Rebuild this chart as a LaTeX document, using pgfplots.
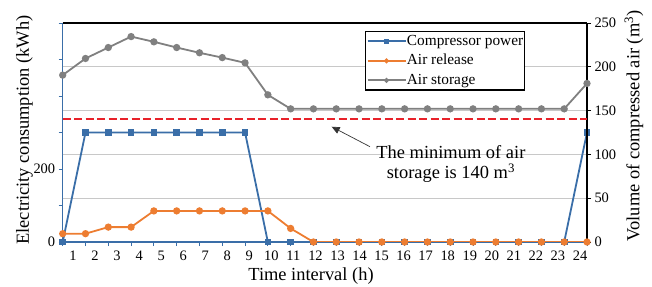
\documentclass[border=0pt]{standalone}
\usepackage{pgfplots}
\pgfplotsset{compat=1.18}
\usepackage{fontspec}
\setmainfont{Liberation Serif}
\usetikzlibrary{arrows.meta}
\definecolor{cblue}{HTML}{3A6EA8}
\definecolor{corange}{HTML}{ED7D31}
\definecolor{cgray}{HTML}{808080}
\definecolor{cred}{HTML}{E8222A}
\definecolor{cgrid}{HTML}{C8C8C8}
\pgfplotstableread{
h p
1 0
2 300
3 300
4 300
5 300
6 300
7 300
8 300
9 300
10 0
11 0
12 0
13 0
14 0
15 0
16 0
17 0
18 0
19 0
20 0
21 0
22 0
23 0
24 300
}\compressor
\pgfplotstableread{
h r s
1 9.5 190.5
2 9.5 209.5
3 17 222
4 17 234.5
5 35.5 228.5
6 35.5 222
7 35.5 216
8 35.5 210.5
9 35.5 204.5
10 35.5 168
11 15.5 152
12 0 152
13 0 152
14 0 152
15 0 152
16 0 152
17 0 152
18 0 152
19 0 152
20 0 152
21 0 152
22 0 152
23 0 152
24 0 181
}\air
\begin{document}
\begin{tikzpicture}
\pgfplotsset{
  common/.style={
    scale only axis, width=524.3bp, height=219bp,
    xmin=1, xmax=24,
    tick align=outside, major tick length=4bp,
    /pgf/number format/assume math mode=true,
    ticklabel style={font=\fontsize{14.5}{16}\selectfont},
    label style={font=\fontsize{18.5}{20}\selectfont},
  }
}
% left axis: electricity
\begin{axis}[common,
  ymin=0, ymax=600,
  axis x line*=bottom, axis y line*=left,
  axis line style={cblue, line width=1.2bp},
  every tick/.style={cblue, line width=1bp},
  xtick={1,...,24}, xticklabels={},
  extra x ticks={1.452,2.419,3.386,4.353,5.320,6.287,7.254,8.221,9.188,10.155,11.122,12.089,13.056,14.023,14.990,15.957,16.924,17.891,18.858,19.825,20.792,21.759,22.726,23.693},
  extra x tick labels={1,2,3,4,5,6,7,8,9,10,11,12,13,14,15,16,17,18,19,20,21,22,23,24},
  extra x tick style={major tick length=0pt, xticklabel style={anchor=base, yshift=-18bp}},
  ytick={0,100,...,600}, yticklabels={0,,200,,,,},
  extra y ticks={120,240,360,480},
  extra y tick labels={},
  extra y tick style={major tick length=0pt, ymajorgrids=true, major grid style={cgrid, line width=1bp}},
  xlabel={Time interval (h)},
  xlabel style={at={(axis description cs:0.4736,0)}, anchor=base, yshift=-38bp},
  ylabel={Electricity consumption (kWh)},
  ylabel style={at={(axis description cs:-0.0643,0.511)}, anchor=base},
]
\addplot[cblue, line width=1.8bp, mark=square*, mark size=2.4bp, mark options={solid}] table[x=h,y=p] {\compressor};
\end{axis}
% right axis: compressed air
\begin{axis}[common,
  ymin=0, ymax=250,
  axis x line*=top, axis y line*=right,
  axis line style={black, line width=1.2bp},
  every tick/.style={black, line width=1bp},
  xtick=\empty,
  ytick={0,50,...,250},
  ylabel={Volume of compressed air (m\textsuperscript{3})},
  ylabel style={at={(axis description cs:1.1001,0.53)}, anchor=base},
  legend style={at={(0.5766,0.9635)}, anchor=north west, draw=black, line width=1.2bp, fill=white,
    font=\fontsize{15.4}{17}\selectfont, inner xsep=1bp, inner ysep=2bp, row sep=4bp,
    nodes={inner sep=0.5bp, text height=11bp, text depth=3.5bp}},
  legend cell align=left,
  legend image code/.code={\draw[mark repeat=2, mark phase=2, line width=1.8bp, mark size=1.4bp] plot coordinates {(0bp,0bp) (19bp,0bp) (38bp,0bp)};},
]
\addlegendimage{cblue, mark=square*}
\addlegendentry{Compressor power}
\addplot[cred, line width=1.8bp, dash pattern=on 8bp off 3.5bp, forget plot] coordinates {(1,140) (24,140)};
\addplot[corange, line width=1.8bp, mark=*, mark size=2.7bp] table[x=h,y=r] {\air};
\addlegendentry{Air release}
\addplot[cgray, line width=1.8bp, mark=*, mark size=2.7bp] table[x=h,y=s] {\air};
\addlegendentry{Air storage}
\draw[-{Triangle[length=8bp,width=7bp]}, line width=0.7bp, black!80] (axis cs:14.48,108.8) -- (axis cs:12.80,131.6);
\node[font=\fontsize{18.5}{20}\selectfont, anchor=base] at (axis cs:18.03,95.5) {The minimum of air};
\node[font=\fontsize{18.5}{20}\selectfont, anchor=base] at (axis cs:18.03,72.6) {storage is 140 m\textsuperscript{3}};
\end{axis}
\pgfresetboundingbox
\path[use as bounding box] (-62.7bp,-45bp) rectangle (589.3bp,242bp);
\end{tikzpicture}
\end{document}
